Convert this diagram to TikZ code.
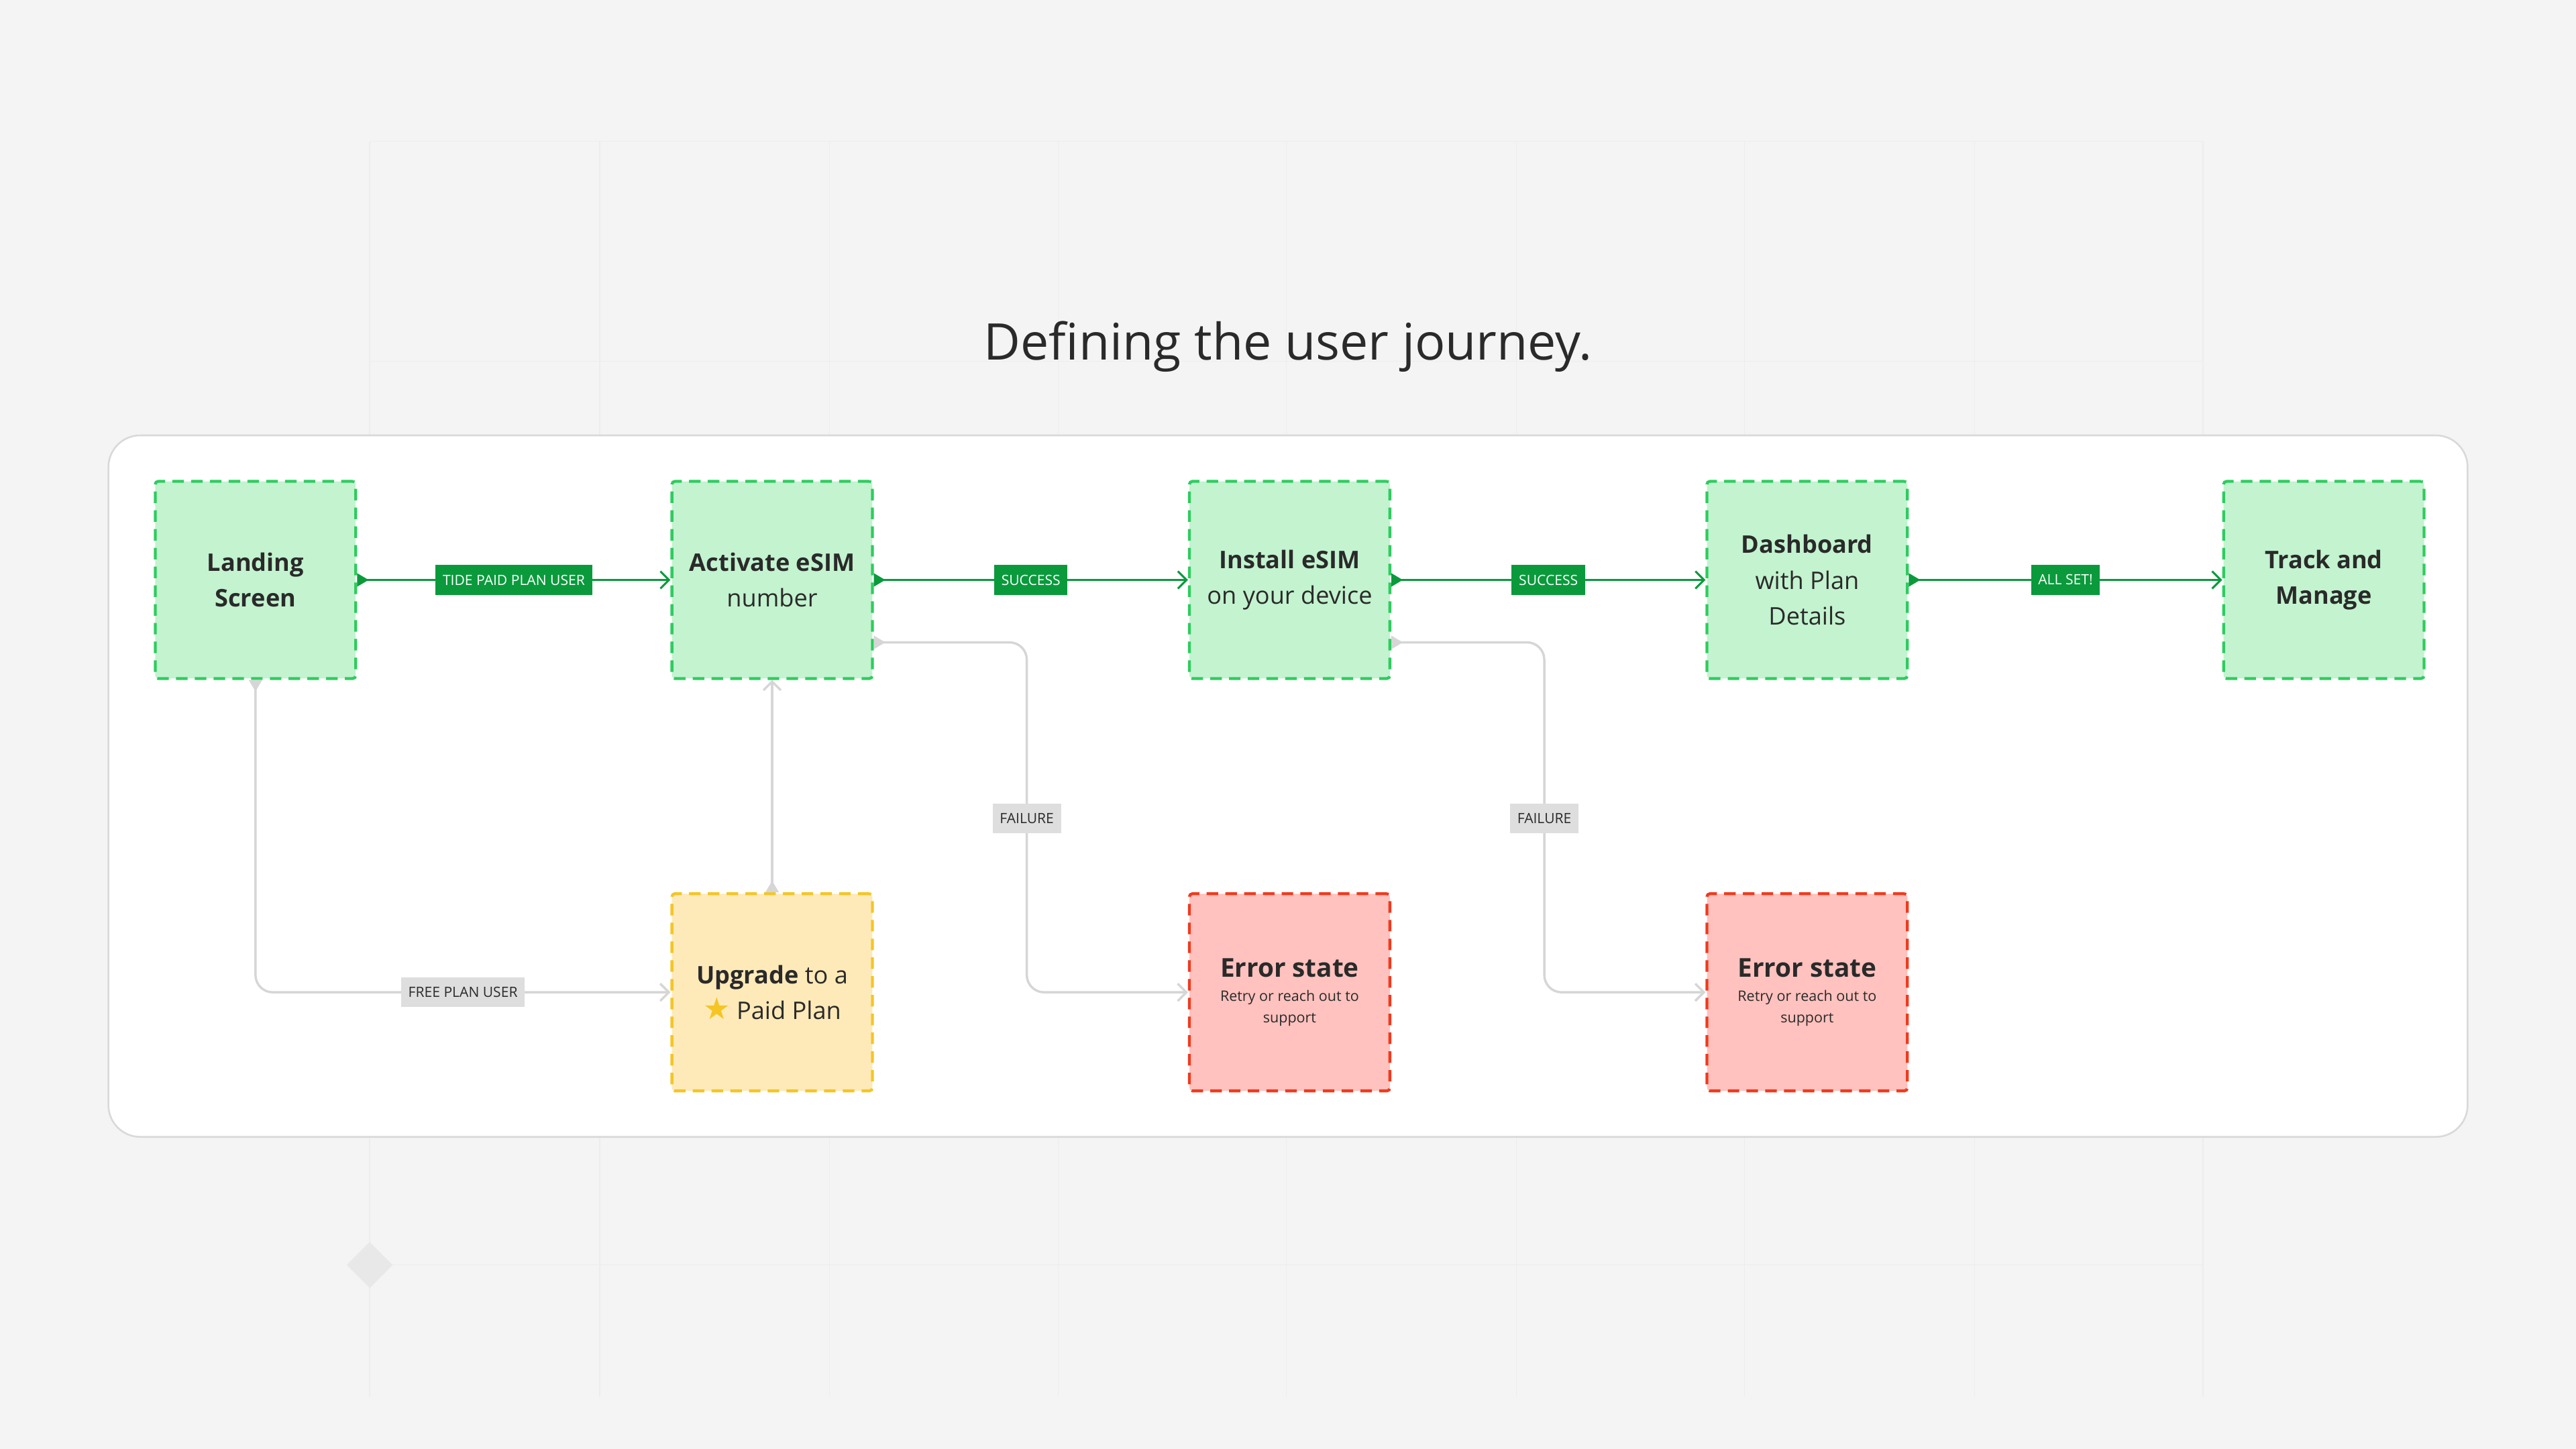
\documentclass[tikz,border=0pt]{standalone}
\usepackage{fontspec}
\setmainfont{Open Sans}
\newfontfamily\symfont{DejaVu Sans}
\usetikzlibrary{arrows.meta,positioning}
\definecolor{bgcol}{HTML}{F4F4F4}
\definecolor{okfill}{HTML}{C3F3CF}
\definecolor{okline}{HTML}{2ECC5F}
\definecolor{okdark}{HTML}{0A9A3C}
\definecolor{warnfill}{HTML}{FEEAB8}
\definecolor{warnline}{HTML}{F5C524}
\definecolor{errfill}{HTML}{FFC2BE}
\definecolor{errline}{HTML}{F03A1E}
\definecolor{pathgray}{HTML}{D6D6D6}
\definecolor{tagfill}{HTML}{DEDEDE}
\definecolor{inkcol}{HTML}{2A2A2A}
\tikzset{
  stepbox/.style={draw, dashed, line width=1pt, dash pattern=on 4pt off 2.5pt,
    minimum width=122*0.02cm, minimum height=120*0.02cm, rounded corners=1pt,
    align=center, font=\fontsize{8.4}{12.4}\selectfont, text=inkcol},
  okbox/.style={stepbox, draw=okline, fill=okfill},
  warnbox/.style={stepbox, draw=warnline, fill=warnfill},
  errbox/.style={stepbox, draw=errline, fill=errfill, font=\fontsize{5}{7.4}\selectfont},
  goline/.style={draw=okdark, line width=0.7pt, {Triangle[reversed,length=4pt,width=4.5pt]}-{Straight Barb[length=3pt,width=6pt]}},
  sideline/.style={draw=pathgray, line width=0.8pt, rounded corners=6pt, {Triangle[reversed,length=4pt,width=4.5pt]}-{Straight Barb[length=3pt,width=6pt]}},
  gotag/.style={fill=okdark, text=white, font=\fontsize{4.9}{5}\selectfont, sharp corners, inner xsep=2.5pt, minimum height=18*0.02cm},
  sidetag/.style={fill=tagfill, text=inkcol, font=\fontsize{4.9}{5}\selectfont, sharp corners, inner xsep=2.5pt, minimum height=18*0.02cm},
}
\begin{document}
\begin{tikzpicture}[x=0.02cm,y=-0.02cm]

% page and faint grid
\fill[bgcol] (0,0) rectangle (1568,882);
\useasboundingbox (0,0) rectangle (1568,882);
\foreach \gx in {225,365,505,644,783,923,1062,1202,1341}
  \draw[white!93!black, line width=0.3pt] (\gx,86) -- (\gx,850);
\foreach \gy in {86,220,770}
  \draw[white!93!black, line width=0.3pt] (225,\gy) -- (1341,\gy);
\fill[white!91!black] (225,756) -- (239,770) -- (225,784) -- (211,770) -- cycle;

\node[font=\fontsize{17.5}{20}\selectfont, text=inkcol] (title) at (784,211) {Defining the user journey.};

% panel
\filldraw[draw=white!85!black, fill=white, line width=0.6pt, rounded corners=11pt]
  (66,265) rectangle (1502,692);

% main row
\node[okbox] (landing) at (155.5,353) {\textbf{Landing}\\\textbf{Screen}};
\node[okbox] (activate) at (470,353) {\textbf{Activate eSIM}\\number};
\node[okbox] (install) at (785,353) {\textbf{Install eSIM}\\on your device};
\node[okbox] (dashboard) at (1100,353) {\textbf{Dashboard}\\with Plan\\Details};
\node[okbox] (track) at (1414.5,353) {\textbf{Track and}\\\textbf{Manage}};

% lower row
\node[warnbox] (upgrade) at (470,604) {\textbf{Upgrade} to a\\{\symfont\fontsize{10.5}{12}\selectfont\color{warnline}★} Paid Plan};
\node[errbox] (errorA) at (785,604) {{\fontsize{9}{11}\selectfont\textbf{Error state}}\\[1pt]Retry or reach out to\\support};
\node[errbox] (errorB) at (1100,604) {{\fontsize{9}{11}\selectfont\textbf{Error state}}\\[1pt]Retry or reach out to\\support};

% happy path
\draw[goline] (landing) -- node[gotag] {TIDE PAID PLAN USER} (activate);
\draw[goline] (activate) -- node[gotag] {SUCCESS} (install);
\draw[goline] (install) -- node[gotag] {SUCCESS} (dashboard);
\draw[goline] (dashboard) -- node[gotag] {ALL SET!} (track);

% side paths
\draw[sideline] (landing.south) |- node[pos=0.75, sidetag] {FREE PLAN USER} (upgrade.west);
\draw[sideline] (upgrade.north) -- (activate.south);
\draw[sideline] ([yshift=-38*0.02cm]activate.east) -| (625,498) node[sidetag] {FAILURE} |- (errorA.west);
\draw[sideline] ([yshift=-38*0.02cm]install.east) -| (940,498) node[sidetag] {FAILURE} |- (errorB.west);

\end{tikzpicture}
\end{document}
